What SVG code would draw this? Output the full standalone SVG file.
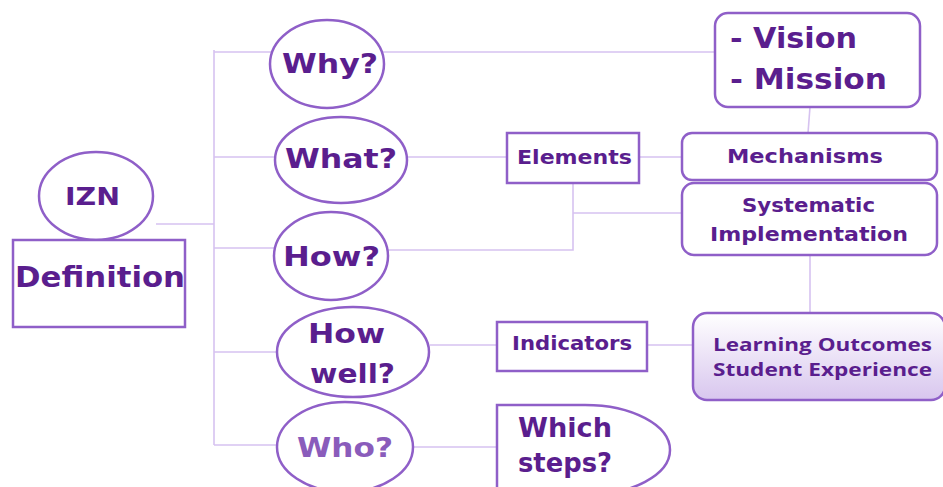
<svg xmlns="http://www.w3.org/2000/svg" width="943" height="487" viewBox="0 0 943 487">
<defs>
<linearGradient id="lg" x1="0" y1="0" x2="0" y2="1">
<stop offset="0" stop-color="#ffffff"/>
<stop offset="1" stop-color="#d8c6ee"/>
</linearGradient>
<style>
.shape{fill:#ffffff;stroke:#8f5fc8;stroke-width:2.5}
.t{font-family:"DejaVu Sans","Open Sans",sans-serif;font-weight:bold;fill:#5a1e8e}
.s{font-family:"Open Sans","Liberation Sans",sans-serif;font-weight:700;fill:#5a1e8e}
.c{fill:none;stroke:#d6c2f0;stroke-width:1.6}
</style>
</defs>
<rect width="943" height="487" fill="#ffffff"/>
<g id="connectors">
<path class="c" d="M156,224 H214"/>
<path class="c" d="M214,50 V445"/>
<path class="c" d="M214,52 H271"/>
<path class="c" d="M214,157 H276"/>
<path class="c" d="M214,248 H275"/>
<path class="c" d="M214,352 H277"/>
<path class="c" d="M214,445 H277"/>
<path class="c" d="M383,52 H715"/>
<path class="c" d="M407,157 H507"/>
<path class="c" d="M639,157 H682"/>
<path class="c" d="M573,183 V250 H388"/>
<path class="c" d="M573,213 H682"/>
<path class="c" d="M810,107 L808,133"/>
<path class="c" d="M810,255 V313"/>
<path class="c" d="M430,345 H497"/>
<path class="c" d="M647,345 H693"/>
<path class="c" d="M413,447 H497"/>
</g>
<g id="izn">
<ellipse class="shape" cx="96" cy="196" rx="57" ry="44"/>
<text class="t" x="65" y="205" font-size="24" textLength="55" lengthAdjust="spacingAndGlyphs">IZN</text>
</g>
<g id="definition">
<rect class="shape" x="13" y="240" width="172" height="87"/>
<text class="t" x="15" y="287" font-size="28" textLength="170" lengthAdjust="spacingAndGlyphs">Definition</text>
</g>
<g id="why">
<ellipse class="shape" cx="327" cy="64" rx="57" ry="44"/>
<text class="t" x="282" y="73" font-size="27" textLength="96" lengthAdjust="spacingAndGlyphs">Why?</text>
</g>
<g id="what">
<ellipse class="shape" cx="341" cy="160" rx="66" ry="43"/>
<text class="t" x="285" y="168" font-size="27" textLength="112" lengthAdjust="spacingAndGlyphs">What?</text>
</g>
<g id="how">
<ellipse class="shape" cx="331" cy="256" rx="57" ry="44"/>
<text class="t" x="283" y="266" font-size="27" textLength="97" lengthAdjust="spacingAndGlyphs">How?</text>
</g>
<g id="howwell">
<ellipse class="shape" cx="353" cy="352" rx="76" ry="45"/>
<text class="t" x="308" y="343" font-size="27" textLength="77" lengthAdjust="spacingAndGlyphs">How</text>
<text class="t" x="310" y="383" font-size="27" textLength="85" lengthAdjust="spacingAndGlyphs">well?</text>
</g>
<g id="who">
<ellipse class="shape" cx="345" cy="447" rx="68" ry="45"/>
<text class="t" x="297" y="457" font-size="27" textLength="96" lengthAdjust="spacingAndGlyphs" style="fill:#8a5cbb">Who?</text>
</g>
<g id="elements">
<rect class="shape" x="507" y="133" width="132" height="50"/>
<text class="t" x="517" y="164" font-size="19" textLength="115" lengthAdjust="spacingAndGlyphs">Elements</text>
</g>
<g id="indicators">
<rect class="shape" x="497" y="322" width="150" height="49"/>
<text class="t" x="512" y="350" font-size="19" textLength="120" lengthAdjust="spacingAndGlyphs">Indicators</text>
</g>
<g id="vision">
<rect class="shape" x="715" y="13" width="205" height="94" rx="13"/>
<text class="t" x="730" y="48" font-size="29" textLength="127" lengthAdjust="spacingAndGlyphs">- Vision</text>
<text class="t" x="730" y="89" font-size="29" textLength="157" lengthAdjust="spacingAndGlyphs">- Mission</text>
</g>
<g id="mechanisms">
<rect class="shape" x="682" y="133" width="255" height="47" rx="10"/>
<text class="t" x="727" y="163" font-size="19" textLength="156" lengthAdjust="spacingAndGlyphs">Mechanisms</text>
</g>
<g id="systematic">
<rect class="shape" x="682" y="183" width="255" height="72" rx="12"/>
<text class="t" x="742" y="212" font-size="19" textLength="133" lengthAdjust="spacingAndGlyphs">Systematic</text>
<text class="t" x="710" y="241" font-size="19" textLength="198" lengthAdjust="spacingAndGlyphs">Implementation</text>
</g>
<g id="learning">
<rect x="693" y="313" width="252" height="87" rx="14" fill="url(#lg)" stroke="#8f5fc8" stroke-width="2.5"/>
<text class="s" x="713" y="351" font-size="18" textLength="219" lengthAdjust="spacingAndGlyphs">Learning Outcomes</text>
<text class="s" x="713" y="376" font-size="18" textLength="219" lengthAdjust="spacingAndGlyphs">Student Experience</text>
</g>
<g id="whichsteps">
<path class="shape" d="M497,500 V405 H585 A85,45 0 0 1 585,495 Z"/>
<text class="t" x="518" y="437" font-size="27" textLength="94" lengthAdjust="spacingAndGlyphs">Which</text>
<text class="t" x="518" y="472" font-size="27" textLength="94" lengthAdjust="spacingAndGlyphs">steps?</text>
</g>
</svg>
